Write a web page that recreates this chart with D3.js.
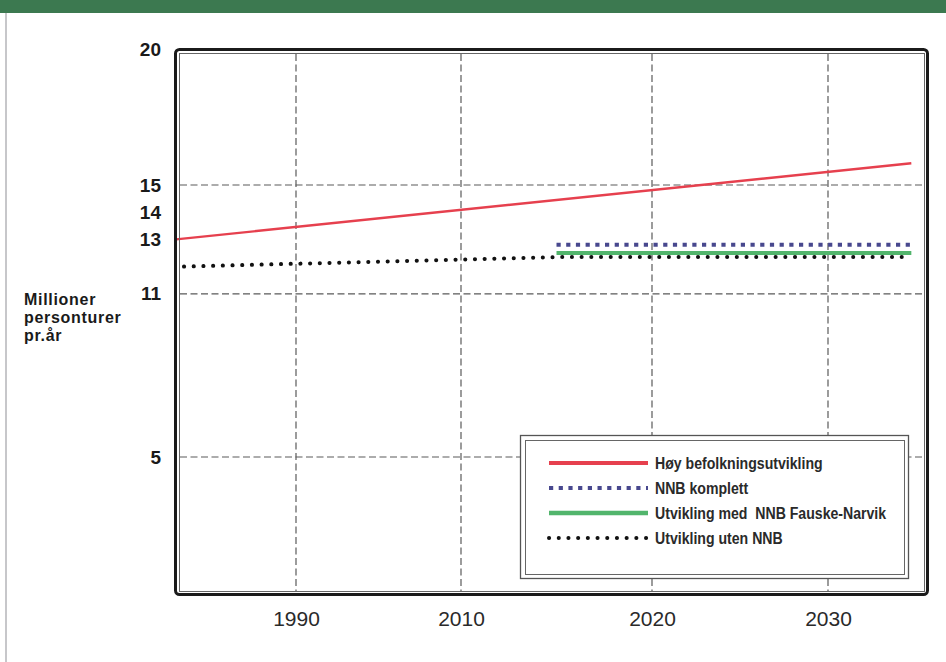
<!DOCTYPE html>
<html><head><meta charset="utf-8">
<script src="https://cdn.jsdelivr.net/npm/d3@7"></script>
<style>
html,body{margin:0;padding:0;background:#fff;}
svg{display:block;}
.ylab{font-family:"Liberation Sans",Arial,sans-serif;font-weight:bold;font-size:19px;fill:#1a1a1a;}
.xlab{font-family:"Liberation Sans",Arial,sans-serif;font-size:21px;fill:#2a2a2a;}
.ytitle{font-family:"Liberation Sans",Arial,sans-serif;font-weight:bold;font-size:16px;letter-spacing:0.7px;fill:#1a1a1a;}
.leg{font-family:"Liberation Sans",Arial,sans-serif;font-weight:bold;font-size:17px;fill:#2a2a2a;}
</style></head>
<body>
<script>
// ---- data ----
const xTickYears = [1990, 2010, 2020, 2030];
const yTickValues = [20, 15, 14, 13, 11, 5];
const yGridValues = [15, 11, 5];
const seriesNames = ["Høy befolkningsutvikling", "NNB komplett", "Utvikling med  NNB Fauske-Narvik", "Utvikling uten NNB"];
const hoyYears = [1975, 2035];
const hoyValues = [13.0, 15.8];
const komplettYears = [2015, 2035];
const komplettValues = [12.8, 12.8];
const fauskeYears = [2015, 2035];
const fauskeValues = [12.5, 12.5];
const utenYears = [1976, 2015, 2035];
const utenValues = [12.0, 12.35, 12.35];
const yTitleLines = ["Millioner", "personturer", "pr.år"];

(function () {
const W = 946, H = 662;
const svg = d3.select("body").append("svg").attr("width", W).attr("height", H);

// page decoration
svg.append("rect").attr("x", 0).attr("y", 0).attr("width", W).attr("height", 13).attr("fill", "#3c7950");
svg.append("line").attr("x1", 6).attr("x2", 6).attr("y1", 13).attr("y2", H).attr("stroke", "#b4b4b8").attr("stroke-width", 1.5);

// scales (the original axis is not uniform in time)
const x = d3.scaleLinear().domain([1975, 1990, 2010, 2020, 2030, 2036]).range([176, 296, 461, 652, 828, 928]);
const y = d3.scaleLinear().domain([0, 20]).range([593, 49]);

const pL = 180, pR = 924, pT = 54, pB = 591;

// gridlines
const grid = svg.append("g").attr("stroke", "#5a5a5a").attr("stroke-width", 1.2).attr("stroke-dasharray", "7 3.5");
grid.selectAll("line.v").data(xTickYears).join("line").attr("class", "v")
  .attr("x1", d => x(d)).attr("x2", d => x(d)).attr("y1", pT).attr("y2", pB);
grid.selectAll("line.h").data(yGridValues).join("line").attr("class", "h")
  .attr("x1", pL).attr("x2", pR).attr("y1", d => y(d)).attr("y2", d => y(d));

// axes labels via d3 axes
const yAxis = svg.append("g").attr("transform", "translate(161,0)")
  .call(d3.axisLeft(y).tickValues(yTickValues).tickSize(0).tickPadding(0));
yAxis.select(".domain").remove();
yAxis.selectAll("text").attr("class", "ylab").attr("font-family", null).attr("font-size", null).attr("fill", null);
yAxis.attr("font-family", null).attr("font-size", null);

const xAxis = svg.append("g").attr("transform", "translate(0,611)")
  .call(d3.axisBottom(x).tickValues(xTickYears).tickFormat(d3.format("d")).tickSize(0).tickPadding(0));
xAxis.select(".domain").remove();
xAxis.selectAll("text").attr("class", "xlab").attr("font-family", null).attr("font-size", null).attr("fill", null);
xAxis.attr("font-family", null).attr("font-size", null);

// y title
svg.append("text").attr("class", "ytitle").attr("x", 24).attr("y", 305)
  .selectAll("tspan").data(yTitleLines).join("tspan").attr("x", 24).attr("dy", (d, i) => i ? 18 : 0).text(d => d);

// series
const styles = [
  {stroke: "#e6404e", width: 2.4, dash: null, cap: "butt", legWidth: 4},
  {stroke: "#48488e", width: 4, dash: "4.2 5.5", cap: "butt", legWidth: 4},
  {stroke: "#52b56c", width: 4, dash: null, cap: "butt", legWidth: 4.5},
  {stroke: "#111", width: 4, dash: "0.1 9.6", cap: "round", legWidth: 4}
];
const series = [
  hoyYears.map((d, i) => [d, hoyValues[i]]),
  komplettYears.map((d, i) => [d, komplettValues[i]]),
  fauskeYears.map((d, i) => [d, fauskeValues[i]]),
  utenYears.map((d, i) => [d, utenValues[i]])
];
const line = d3.line().x(d => x(d[0])).y(d => y(d[1]));
const drawOrder = [3, 0, 2, 1];
drawOrder.forEach(k => {
  const s = styles[k];
  svg.append("path").datum(series[k]).attr("d", line).attr("fill", "none")
    .attr("stroke", s.stroke).attr("stroke-width", s.width)
    .attr("stroke-dasharray", s.dash).attr("stroke-linecap", s.cap);
});

// frame
svg.append("rect").attr("x", 175.5).attr("y", 49.5).attr("width", 752).attr("height", 545).attr("rx", 4)
  .attr("fill", "none").attr("stroke", "#1b1b1b").attr("stroke-width", 3);
svg.append("rect").attr("x", pL - 0.5).attr("y", pT - 0.5).attr("width", pR - pL + 1).attr("height", pB - pT + 1)
  .attr("fill", "none").attr("stroke", "#666").attr("stroke-width", 1);

// legend
const lg = svg.append("g");
lg.append("rect").attr("x", 520.5).attr("y", 435.5).attr("width", 388).attr("height", 143)
  .attr("fill", "#fff").attr("stroke", "#555").attr("stroke-width", 1.3);
lg.append("rect").attr("x", 525.5).attr("y", 440.5).attr("width", 379).attr("height", 134)
  .attr("fill", "none").attr("stroke", "#666").attr("stroke-width", 1);
const rowY = d3.scalePoint().domain(d3.range(seriesNames.length)).range([463, 538]);
seriesNames.forEach((name, k) => {
  const s = styles[k];
  const yy = rowY(k);
  lg.append("line").attr("x1", 549).attr("x2", 648).attr("y1", yy).attr("y2", yy)
    .attr("stroke", s.stroke).attr("stroke-width", s.legWidth)
    .attr("stroke-dasharray", s.dash).attr("stroke-linecap", s.cap);
  lg.append("text").attr("class", "leg")
    .attr("transform", `translate(655,${yy}) scale(0.83,1)`).attr("dy", "0.36em")
    .style("white-space", "pre").text(name);
});
})();
</script>
</body></html>
